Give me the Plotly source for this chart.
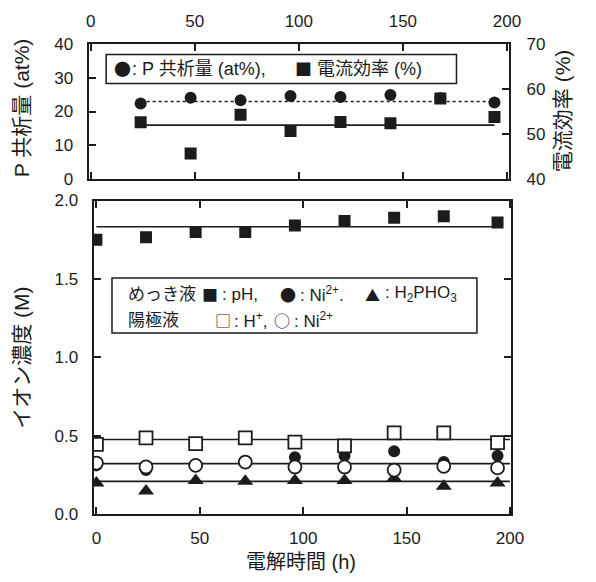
import plotly.graph_objects as go

# ---------------- data ----------------
times_top = [24, 48, 72, 96, 120, 144, 168, 194]
p_content = [22.4, 24.1, 23.3, 24.6, 24.3, 24.9, 23.9, 22.7]          # at%
current_eff = [52.6, 45.7, 54.3, 50.7, 52.7, 52.4, 57.9, 53.8]        # %
p_mean = [23.0, 23.0]
eff_mean = [52.0, 52.0]

times_bot = [0, 24, 48, 72, 96, 120, 144, 168, 194]
bath_ph = [1.75, 1.765, 1.80, 1.80, 1.84, 1.87, 1.89, 1.90, 1.86]
bath_ni = [0.31, 0.28, 0.31, 0.33, 0.362, 0.372, 0.40, 0.331, 0.372]
bath_h3po3 = [0.198, 0.146, 0.214, 0.208, 0.214, 0.214, 0.228, 0.177, 0.198]
anode_h = [0.444, 0.486, 0.449, 0.486, 0.459, 0.434, 0.517, 0.517, 0.455]
anode_ni = [0.325, 0.30, 0.31, 0.331, 0.30, 0.30, 0.28, 0.304, 0.294]
ph_mean = [1.833, 1.833]
h_mean = [0.475, 0.475]
ni_mean = [0.321, 0.321]
h3po3_mean = [0.208, 0.208]
line_span = [0, 200]
ph_span = [0, 196]

x_ticks = [0, 50, 100, 150, 200]
p_ticks = [0, 10, 20, 30, 40]
eff_ticks = [40, 50, 60, 70]
conc_ticks = [0.0, 0.5, 1.0, 1.5, 2.0]

# ---------------- style ----------------
W, H = 596, 582
INK = "#1c1c1c"
NUM_FONT = "Liberation Sans, Arial, sans-serif"
JP_FONT = "Liberation Sans, Noto Sans CJK JP, sans-serif"
SYM_FONT = "Noto Sans CJK JP, sans-serif"


def px(x):
    return x / W


def py(y):
    return 1 - y / H


fig = go.Figure()

# --- top panel ---
fig.add_trace(go.Scatter(x=[times_top[0], times_top[-1]], y=p_mean, mode="lines",
                         line=dict(color=INK, width=1.5, dash="dot"),
                         xaxis="x2", yaxis="y2", showlegend=False))
fig.add_trace(go.Scatter(x=[times_top[0], times_top[-1]], y=eff_mean, mode="lines",
                         line=dict(color=INK, width=1.6),
                         xaxis="x2", yaxis="y3", showlegend=False))
fig.add_trace(go.Scatter(x=times_top, y=p_content, mode="markers",
                         marker=dict(symbol="circle", size=12, color=INK),
                         xaxis="x2", yaxis="y2", showlegend=False))
fig.add_trace(go.Scatter(x=times_top, y=current_eff, mode="markers",
                         marker=dict(symbol="square", size=12, color=INK),
                         xaxis="x2", yaxis="y3", showlegend=False))

# --- bottom panel lines ---
fig.add_trace(go.Scatter(x=ph_span, y=ph_mean, mode="lines",
                         line=dict(color=INK, width=1.6), showlegend=False))
for lvl in (h_mean, ni_mean, h3po3_mean):
    fig.add_trace(go.Scatter(x=line_span, y=lvl, mode="lines",
                             line=dict(color=INK, width=1.6), showlegend=False))

# --- bottom panel markers ---
fig.add_trace(go.Scatter(x=times_bot, y=bath_ph, mode="markers",
                         marker=dict(symbol="square", size=12, color=INK),
                         showlegend=False))
fig.add_trace(go.Scatter(x=times_bot, y=bath_h3po3, mode="markers",
                         marker=dict(symbol="triangle-up", size=14, color=INK),
                         showlegend=False))
fig.add_trace(go.Scatter(x=times_bot, y=bath_ni, mode="markers",
                         marker=dict(symbol="circle", size=12, color=INK),
                         showlegend=False))
fig.add_trace(go.Scatter(x=times_bot, y=anode_ni, mode="markers",
                         marker=dict(symbol="circle", size=13, color="white",
                                     line=dict(color=INK, width=1.8)),
                         showlegend=False))
fig.add_trace(go.Scatter(x=times_bot, y=anode_h, mode="markers",
                         marker=dict(symbol="square", size=13, color="white",
                                     line=dict(color=INK, width=1.8)),
                         showlegend=False))

axis_common = dict(showline=True, linecolor=INK, linewidth=2, ticks="inside",
                   ticklen=7, tickwidth=1.5, tickcolor=INK, showgrid=False,
                   zeroline=False, tickfont=dict(family=NUM_FONT, size=17, color=INK))

fig.update_layout(
    width=W, height=H,
    margin=dict(l=0, r=0, t=0, b=0),
    paper_bgcolor="white", plot_bgcolor="white",
    xaxis=dict(domain=[px(93), px(522)], range=[-1.4, 200.5], anchor="y",
               tickvals=x_ticks, mirror="ticks", ticklabelstandoff=8, **axis_common),
    yaxis=dict(domain=[py(522), py(198)], range=[0, 2.0], anchor="x",
               tickvals=conc_ticks, tickformat=".1f", mirror="ticks",
               ticklabelstandoff=10, **axis_common),
    xaxis2=dict(domain=[px(88), px(520)], range=[-1, 201], anchor="y2", side="top",
                tickvals=x_ticks, mirror="ticks", ticklabelstandoff=8, **axis_common),
    yaxis2=dict(domain=[py(176), py(36)], range=[0, 40], anchor="x2",
                tickvals=p_ticks, ticklabelstandoff=10, **axis_common),
    yaxis3=dict(domain=[py(176), py(36)], range=[40, 70], anchor="x2",
                overlaying="y2", side="right", tickvals=eff_ticks,
                ticklabelstandoff=12, **axis_common),
)

ann = []


def text(x, y, s, size=17, angle=0, xanchor="center", yanchor="middle", family=JP_FONT):
    ann.append(dict(x=px(x), y=py(y), xref="paper", yref="paper", text=s,
                    showarrow=False, textangle=angle, xanchor=xanchor,
                    yanchor=yanchor, borderpad=0,
                    font=dict(family=family, size=size, color=INK)))


# axis titles
text(19, 102, "P 共析量 (at%)", size=21, angle=-90)
text(575, 105, "電流効率 (%)", size=21, angle=-90)
text(19, 360, "イオン濃度 (M)", size=21, angle=-90)
text(306, 584, "電解時間 (h)", size=20, yanchor="bottom")

# top legend
TL = 62
text(123, TL, "●", size=17, family=SYM_FONT)
text(132, TL, ": P 共析量 (at%),", size=18, xanchor="left")
text(309, TL, "■", size=17, family=SYM_FONT)
text(322, TL, "電流効率 (%)", size=18, xanchor="left")

# bottom legend
L1, L2 = 295, 322
text(127, L1, "めっき液", size=17, xanchor="left")
text(213, L1, "■", size=16, family=SYM_FONT)
text(224, L1, ": pH,", size=17, xanchor="left")
text(293, L1, "●", size=16, family=SYM_FONT)
text(304, L1, ": Ni<sup>2+</sup>.", size=17, xanchor="left")
text(380, L1, "▲", size=15, family=SYM_FONT)
text(391, L1, ": H<sub>2</sub>PHO<sub>3</sub>", size=17, xanchor="left")
text(127, L2, "陽極液", size=17, xanchor="left")
text(226, L2, "□", size=16, family=SYM_FONT)
text(236, L2, ": H<sup>+</sup>,", size=17, xanchor="left")
text(287, L2, "○", size=16, family=SYM_FONT)
text(298, L2, ": Ni<sup>2+</sup>", size=17, xanchor="left")

fig.update_layout(annotations=ann)

fig.update_layout(shapes=[
    dict(type="rect", xref="paper", yref="paper", x0=px(106), x1=px(466),
         y0=py(77), y1=py(47), line=dict(color=INK, width=1.5)),
    dict(type="rect", xref="paper", yref="paper", x0=px(112), x1=px(487),
         y0=py(335), y1=py(278), line=dict(color=INK, width=1.5)),
])

fig.write_html("out.html")
